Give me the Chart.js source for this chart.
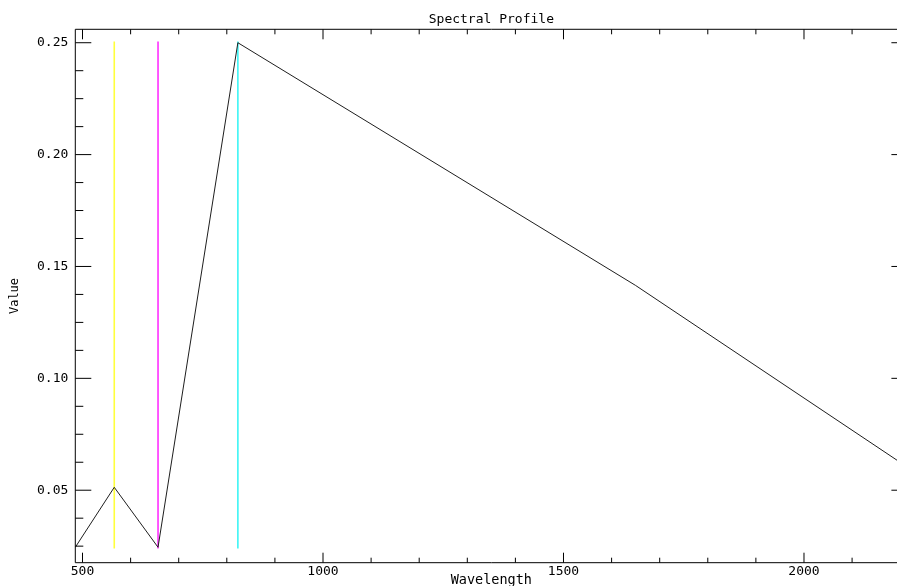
<!DOCTYPE html>
<html>
<head>
<meta charset="utf-8">
<script src="https://cdn.jsdelivr.net/npm/chart.js@4/dist/chart.umd.min.js"></script>
<style>
  html, body { margin: 0; padding: 0; background: #fff; overflow: hidden; }
  #wrap { width: 920px; height: 600px; }
</style>
</head>
<body>
<div id="wrap"><canvas id="c" width="920" height="600"></canvas></div>
<script>
// Spectral profile: one pixel's value at each band centre
const wavelengths = [485, 566, 657, 823, 1650, 2215];
const values = [0.0245, 0.0513, 0.0245, 0.2500, 0.1415, 0.0603];

// Bands shown as R / G / B markers
const markerWavelengths = [566, 657, 823];
const markerColors = ['#ffff3c', '#ff30ff', '#3cf5f5'];
const markerSpan = [0.0240, 0.2505];

// Axis ranges and labelled ticks
const xRange = [485, 2215];
const yRange = [0.0176, 0.256];
const xTicks = [500, 1000, 1500, 2000];
const yTicks = [0.05, 0.10, 0.15, 0.20, 0.25];
const xMinorStep = 100;
const yMinorStep = 0.0125;

const FONT = 'DejaVu Sans Mono';

const datasets = [{
  data: wavelengths.map((w, i) => ({x: w, y: values[i]})),
  borderColor: '#1e1e1e',
  borderWidth: 1,
  pointRadius: 0,
  tension: 0,
  order: 0
}];
markerWavelengths.forEach((w, i) => {
  datasets.push({
    data: markerSpan.map(v => ({x: w, y: v})),
    borderColor: markerColors[i],
    borderWidth: 1.6,
    pointRadius: 0,
    order: 1
  });
});

// Inward tick marks on all four sides, the plot frame, and the heading
const framePlugin = {
  id: 'frame',
  afterDraw(chart) {
    const {ctx, chartArea: a, scales: {x, y}} = chart;
    ctx.save();
    ctx.strokeStyle = '#000';
    ctx.lineWidth = 1;
    ctx.beginPath();
    ctx.rect(a.left, a.top, a.right - a.left, a.bottom - a.top);
    ctx.stroke();

    ctx.beginPath();
    const firstX = Math.ceil(xRange[0] / xMinorStep) * xMinorStep;
    for (let v = firstX; v <= xRange[1]; v += xMinorStep) {
      const px = x.getPixelForValue(v);
      const len = (v % 500 === 0) ? 10 : 5;
      ctx.moveTo(px, a.bottom); ctx.lineTo(px, a.bottom - len);
      ctx.moveTo(px, a.top); ctx.lineTo(px, a.top + len);
    }
    const n0 = Math.ceil(yRange[0] / yMinorStep - 1e-9);
    const n1 = Math.floor(yRange[1] / yMinorStep + 1e-9);
    for (let k = n0; k <= n1; k++) {
      const v = k * yMinorStep;
      const py = y.getPixelForValue(v);
      const len = (k % 4 === 0) ? 16 : 8;
      ctx.moveTo(a.left, py); ctx.lineTo(a.left + len, py);
      ctx.moveTo(a.right, py); ctx.lineTo(a.right - len, py);
    }
    ctx.stroke();

    ctx.fillStyle = '#000';
    ctx.font = '13px "' + FONT + '"';
    ctx.textAlign = 'center';
    ctx.textBaseline = 'middle';
    ctx.fillText('Spectral Profile', (a.left + a.right) / 2, 20);
    ctx.restore();
  }
};

new Chart(document.getElementById('c'), {
  type: 'line',
  data: {datasets},
  options: {
    responsive: false,
    animation: false,
    events: [],
    layout: {padding: {top: 29.3, right: 12.6, left: 0, bottom: 0}},
    plugins: {legend: {display: false}, tooltip: {enabled: false}, title: {display: false}},
    scales: {
      x: {
        type: 'linear',
        position: 'bottom',
        min: xRange[0],
        max: xRange[1],
        grid: {display: false, drawTicks: false},
        border: {display: false},
        afterBuildTicks: s => { s.ticks = xTicks.map(v => ({value: v})); },
        afterFit: s => { s.height = 37.3; },
        ticks: {
          color: '#000',
          padding: 1,
          maxRotation: 0,
          autoSkip: false,
          font: {family: FONT, size: 13},
          callback: v => String(v)
        },
        title: {
          display: true,
          text: 'Wavelength',
          color: '#000',
          font: {family: FONT, size: 13.5},
          padding: {top: 0, bottom: 11}
        }
      },
      y: {
        type: 'linear',
        position: 'left',
        min: yRange[0],
        max: yRange[1],
        grid: {display: false, drawTicks: false},
        border: {display: false},
        afterBuildTicks: s => { s.ticks = yTicks.map(v => ({value: v})); },
        afterFit: s => { s.width = 75.3; },
        ticks: {
          color: '#000',
          padding: 7,
          autoSkip: false,
          font: {family: FONT, size: 13},
          callback: v => Number(v).toFixed(2)
        },
        title: {
          display: true,
          text: 'Value',
          color: '#000',
          font: {family: FONT, size: 12},
          padding: {top: 8, bottom: 0}
        }
      }
    }
  },
  plugins: [framePlugin]
});
</script>
</body>
</html>
